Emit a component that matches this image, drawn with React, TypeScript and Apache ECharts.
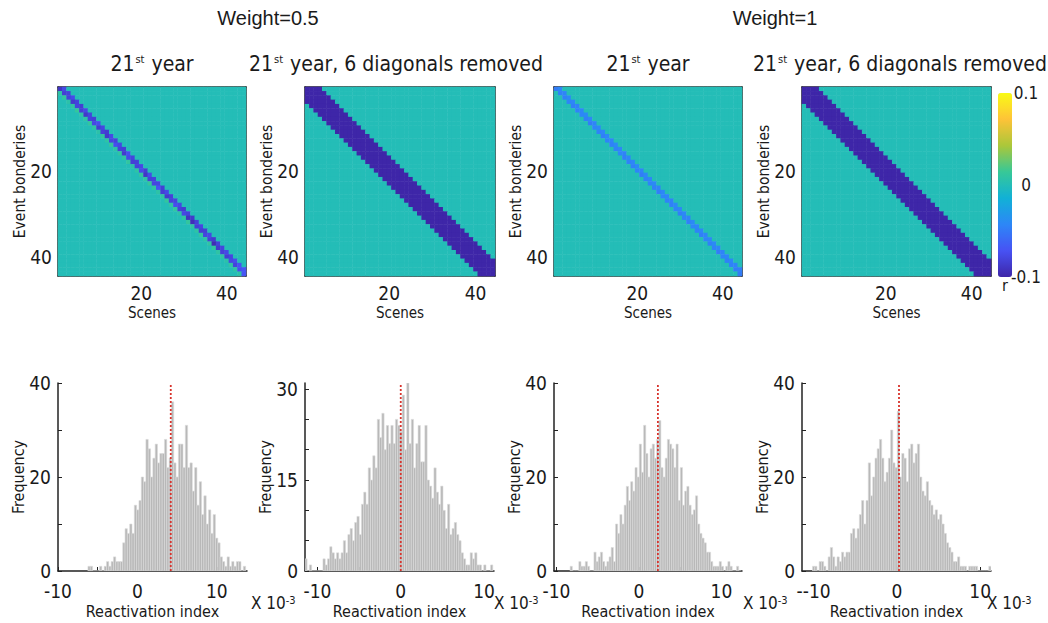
import React, { useEffect, useRef } from "react";
import * as echarts from "echarts";

// ---------------- data ----------------
const N = 44;
const CELL_LABELS = Array.from({ length: N }, (_, i) => String(i + 1));

// "21st year", weight 0.5: main diagonal, the diagonal just above it, and the one just below it
const P1_DIAG = [-0.090, -0.084, -0.082, -0.086, -0.080, -0.083, -0.088, -0.081, -0.078, -0.085,
  -0.082, -0.087, -0.079, -0.074, -0.082, -0.086, -0.077, -0.083, -0.081, -0.076,
  -0.089, -0.082, -0.079, -0.072, -0.084, -0.086, -0.081, -0.075, -0.082, -0.078,
  -0.091, -0.094, -0.083, -0.084, -0.080, -0.082, -0.096, -0.087, -0.082, -0.084,
  -0.078, -0.081, -0.074, -0.070];
const P1_UPPER = [-0.078, -0.082, -0.076, -0.081, -0.084, -0.078, -0.080, -0.083, -0.075, -0.079,
  -0.085, -0.077, -0.081, -0.078, -0.083, -0.074, -0.080, -0.082, -0.078, -0.084,
  -0.076, -0.081, -0.079, -0.083, -0.077, -0.082, -0.080, -0.078, -0.085, -0.081,
  -0.087, -0.082, -0.079, -0.083, -0.078, -0.086, -0.082, -0.080, -0.077, -0.079,
  -0.075, -0.072, -0.070];
const P1_LOWER = [0.008, 0.010, 0.006, 0.009, 0.012, 0.007, 0.008, 0.011, 0.008, 0.006,
  0.010, 0.008, 0.011, 0.007, 0.009, 0.008, 0.010, 0.006, 0.008, 0.010,
  0.008, 0.012, 0.009, 0.007, 0.008, 0.011, 0.008, 0.010, 0.006, 0.009,
  0.011, 0.008, 0.008, 0.010, 0.007, 0.009, 0.010, 0.008, 0.008, 0.006,
  0.009, 0.008, 0.007];
// "21st year", weight 1
const P3_DIAG = [-0.048, -0.045, -0.046, -0.044, -0.047, -0.045, -0.043, -0.046, -0.048, -0.044,
  -0.045, -0.047, -0.044, -0.046, -0.045, -0.043, -0.047, -0.045, -0.046, -0.044,
  -0.048, -0.045, -0.044, -0.046, -0.047, -0.043, -0.045, -0.046, -0.044, -0.047,
  -0.045, -0.046, -0.043, -0.045, -0.047, -0.044, -0.046, -0.045, -0.048, -0.044,
  -0.046, -0.045, -0.047, -0.049];
const P3_UPPER = [-0.042, -0.044, -0.041, -0.043, -0.045, -0.042, -0.040, -0.043, -0.044, -0.041,
  -0.043, -0.042, -0.044, -0.041, -0.043, -0.045, -0.042, -0.043, -0.040, -0.044,
  -0.042, -0.043, -0.041, -0.044, -0.042, -0.043, -0.045, -0.041, -0.043, -0.042,
  -0.044, -0.041, -0.043, -0.042, -0.044, -0.043, -0.041, -0.042, -0.044, -0.043,
  -0.042, -0.044, -0.046];
// "6 diagonals removed": band |row-col| <= 3 set to the colour-scale minimum
const REMOVED_HALF_WIDTH = 3;
const REMOVED_VALUE = -0.1;
const OFF_DIAG_VALUE = 0;

const R_MIN = -0.1;
const R_MAX = 0.1;
const PARULA = ["#3e26a8", "#4752f4", "#2d87f7", "#11b1d6", "#37c897", "#abc739", "#fec338", "#f9fb15"];

// histograms (x in units of 1e-3)
const H1_START = -6.23, H1_WIDTH = 0.292;
const H1_COUNTS = [1, 1, 0, 0, 0, 1, 0, 1, 2, 1, 2, 3, 2, 2, 2, 6, 9, 8, 10, 8,
  14, 13, 15, 20, 19, 28, 26, 20, 24, 27, 23, 25, 25, 28, 22, 24, 36, 23, 20, 27,
  27, 22, 31, 22, 23, 17, 22, 14, 19, 12, 16, 10, 13, 8, 12, 7, 6, 3, 2, 1,
  3, 1, 2, 1, 2, 2, 0, 1];
const H2_START = -11.52, H2_WIDTH = 0.272;
const H2_COUNTS = [2, 0, 1, 0, 0, 0, 0, 0, 2, 1, 2, 4, 3, 2, 3, 2, 3, 5, 3, 6,
  7, 5, 8, 9, 6, 11, 13, 11, 17, 15, 19, 17, 25, 22, 26, 20, 24, 21, 24, 21,
  25, 24, 23, 29, 20, 31, 21, 25, 17, 21, 24, 18, 18, 24, 15, 14, 12, 17, 13, 11,
  14, 10, 7, 11, 6, 7, 8, 6, 5, 3, 2, 1, 1, 3, 2, 3, 1, 1, 0, 1, 0, 0, 1];
const H3_START = -8.34, H3_WIDTH = 0.262;
const H3_COUNTS = [1, 0, 0, 0, 2, 1, 1, 2, 1, 0, 0, 4, 2, 3, 4, 2, 1, 2, 3, 5,
  2, 10, 8, 12, 10, 14, 18, 15, 19, 17, 22, 20, 27, 21, 31, 25, 20, 26, 27, 24,
  28, 32, 22, 20, 24, 28, 27, 26, 22, 27, 15, 22, 14, 17, 18, 14, 12, 13, 16, 10,
  8, 7, 6, 4, 4, 2, 1, 1, 1, 2, 1, 0, 1, 2, 1, 0, 0, 1, 0];
const H4_START = -10.14, H4_WIDTH = 0.268;
const H4_COUNTS = [1, 1, 0, 2, 2, 1, 0, 3, 5, 3, 1, 3, 2, 4, 3, 4, 4, 8, 9, 7,
  9, 12, 15, 10, 15, 23, 16, 20, 24, 26, 28, 24, 19, 21, 24, 30, 23, 22, 34, 20,
  25, 24, 19, 26, 27, 23, 25, 27, 20, 17, 16, 19, 15, 14, 12, 13, 11, 12, 10, 8,
  6, 5, 4, 2, 2, 3, 1, 1, 1, 0, 1, 1, 1, 1, 0, 0, 0, 0, 0, 1];
const MEANS = [4.2, 0.0, 2.3, 0.25];

const HIST_X_RANGES = [[-10, 13.8], [-11.5, 11.2], [-10.3, 12.5], [-11.4, 11.3]];
const HIST_Y_MAX = [40, 31, 40, 40];
const HIST_X_TICKS = [-10, -5, 0, 5, 10];
const HIST_X_LABELS = [-10, 0, 10];
const HIST_Y_TICKS = [[0, 10, 20, 30, 40], [0, 5, 10, 15, 20, 25, 30], [0, 10, 20, 30, 40], [0, 10, 20, 30, 40]];
const HIST_Y_LABELS = [[0, 20, 40], [0, 15, 30], [0, 20, 40], [0, 20, 40]];

const SUPER_TITLES = ["Weight=0.5", "Weight=1"];
const PANEL_TITLES = ["21{sup|st} year", "21{sup|st} year, 6 diagonals removed", "21{sup|st} year", "21{sup|st} year, 6 diagonals removed"];
const COLORBAR_TICKS = [-0.1, 0, 0.1];

// ---------------- layout / style ----------------
const NARROW = "'DejaVu Sans Condensed', 'Liberation Sans', sans-serif";
const SANS = "'Liberation Sans', Arial, sans-serif";
const TXT = "#1a1a1a";
const AX = "#222222";
const HM_LEFTS = [58, 305, 554, 802];
const HM_WIDTHS = [188, 190, 188, 189];
const HM_TOP = 87, HM_H = 189;
const HI_LEFTS = [58, 305, 554, 802];
const HI_WIDTHS = [189, 189, 188, 189];
const HI_TOP = 383, HI_H = 188;
const SUPER_X = [268, 775];
const PANEL_TITLE_X = [152, 396, 648, 900];
const EXP_X = [251, 494, 743, 987];
const TICK_FONT = 19;

function matrix(kind: string) {
  const out: number[][] = [];
  for (let i = 0; i < N; i++) {
    for (let j = 0; j < N; j++) {
      let v = OFF_DIAG_VALUE;
      if (kind === "p1") {
        if (i === j) v = P1_DIAG[i];
        else if (j === i + 1) v = P1_UPPER[i];
        else if (i === j + 1) v = P1_LOWER[j];
      } else if (kind === "p3") {
        if (i === j) v = P3_DIAG[i];
        else if (j === i + 1) v = P3_UPPER[i];
      } else if (Math.abs(i - j) <= REMOVED_HALF_WIDTH) {
        v = REMOVED_VALUE;
      }
      out.push([j, i, v]);
    }
  }
  return out;
}

function bins(start: number, width: number, counts: number[]) {
  return counts.map((c, k) => [start + k * width, start + (k + 1) * width, c]);
}

export default function App() {
  const ref = useRef<HTMLDivElement>(null);
  useEffect(() => {
    document.body.style.margin = "0";
    const chart = echarts.init(ref.current!, null, { renderer: "svg" });

    const grids: any[] = [];
    const xAxes: any[] = [];
    const yAxes: any[] = [];
    const series: any[] = [];
    const axisLine = { show: true, lineStyle: { color: AX, width: 1.5 } };
    const tickFn = (i: number) => (i + 1) % 10 === 0;
    const labelFn = (i: number) => (i + 1) % 20 === 0;
    const nameStyle = (size: number) => ({ fontFamily: NARROW, fontSize: size, color: TXT });

    const kinds = ["p1", "removed", "p3", "removed"];
    for (let k = 0; k < 4; k++) {
      grids.push({ left: HM_LEFTS[k], top: HM_TOP, width: HM_WIDTHS[k], height: HM_H, outerBoundsMode: "none" });
      const xi = xAxes.length, yi = yAxes.length;
      const tick = { show: true, inside: true, alignWithLabel: true, interval: tickFn, length: 4, lineStyle: { color: AX, width: 1 } };
      xAxes.push({
        gridIndex: k, type: "category", data: CELL_LABELS, position: "bottom", axisLine, axisTick: tick,
        axisLabel: { interval: labelFn, margin: 7, fontFamily: NARROW, fontSize: TICK_FONT, color: TXT },
        splitLine: { show: false }, name: "Scenes", nameLocation: "middle", nameGap: 29, nameMoveOverlap: false,
        nameTextStyle: nameStyle(15),
      });
      xAxes.push({
        gridIndex: k, type: "category", data: CELL_LABELS, position: "top", axisLine, axisTick: tick,
        axisLabel: { show: false }, splitLine: { show: false },
      });
      yAxes.push({
        gridIndex: k, type: "category", data: CELL_LABELS, inverse: true, position: "left", axisLine, axisTick: tick,
        axisLabel: { interval: labelFn, margin: 6, fontFamily: NARROW, fontSize: TICK_FONT, color: TXT },
        splitLine: { show: false }, name: "Event bonderies", nameLocation: "middle", nameGap: 30, nameRotate: 90,
        nameMoveOverlap: false, nameTextStyle: nameStyle(15.5),
      });
      yAxes.push({
        gridIndex: k, type: "category", data: CELL_LABELS, inverse: true, position: "right", axisLine, axisTick: tick,
        axisLabel: { show: false }, splitLine: { show: false },
      });
      series.push({
        type: "heatmap", xAxisIndex: xi, yAxisIndex: yi, data: matrix(kinds[k]),
        itemStyle: { borderWidth: 0 }, emphasis: { disabled: true }, progressive: 0, silent: true,
      });
    }

    const H_START = [H1_START, H2_START, H3_START, H4_START];
    const H_WIDTH = [H1_WIDTH, H2_WIDTH, H3_WIDTH, H4_WIDTH];
    const H_COUNTS = [H1_COUNTS, H2_COUNTS, H3_COUNTS, H4_COUNTS];
    for (let k = 0; k < 4; k++) {
      const g = grids.length;
      grids.push({ left: HI_LEFTS[k], top: HI_TOP, width: HI_WIDTHS[k], height: HI_H, outerBoundsMode: "none" });
      const xi = xAxes.length, yi = yAxes.length;
      xAxes.push({
        gridIndex: g, type: "value", min: HIST_X_RANGES[k][0], max: HIST_X_RANGES[k][1], position: "bottom",
        axisLine: { ...axisLine, onZero: false },
        axisTick: { show: true, inside: true, length: 4, customValues: HIST_X_TICKS, lineStyle: { color: AX } },
        axisLabel: {
          customValues: HIST_X_LABELS, margin: 10, fontFamily: NARROW, fontSize: TICK_FONT, color: TXT,
          formatter: (v: number) => (k === 3 && v === -10 ? "--10" : String(v)),
        },
        splitLine: { show: false }, name: "Reactivation index", nameLocation: "middle", nameGap: 32,
        nameMoveOverlap: false, nameTextStyle: nameStyle(16),
      });
      yAxes.push({
        gridIndex: g, type: "value", min: 0, max: HIST_Y_MAX[k], position: "left",
        axisLine: { ...axisLine, onZero: false },
        axisTick: { show: true, inside: true, length: 4, customValues: HIST_Y_TICKS[k], lineStyle: { color: AX } },
        axisLabel: { customValues: HIST_Y_LABELS[k], margin: 7, fontFamily: NARROW, fontSize: TICK_FONT, color: TXT },
        splitLine: { show: false }, name: "Frequency", nameLocation: "middle", nameGap: 32, nameRotate: 90,
        nameMoveOverlap: false, nameTextStyle: nameStyle(16),
      });
      series.push({
        type: "custom", xAxisIndex: xi, yAxisIndex: yi, data: bins(H_START[k], H_WIDTH[k], H_COUNTS[k]),
        encode: { x: [0, 1], y: 2 }, silent: true, clip: true,
        renderItem: (params: any, api: any) => {
          const p0 = api.coord([api.value(0), 0]);
          const p1 = api.coord([api.value(1), api.value(2)]);
          return {
            type: "rect",
            shape: { x: p0[0], y: p1[1], width: p1[0] - p0[0], height: p0[1] - p1[1] },
            style: { fill: "#b8b8b8", stroke: "#dcdcdc", lineWidth: 0.6 },
          };
        },
      });
      series.push({
        type: "line", xAxisIndex: xi, yAxisIndex: yi, data: [[MEANS[k], 0], [MEANS[k], HIST_Y_MAX[k]]],
        symbol: "none", silent: true, z: 5,
        lineStyle: { color: "#d8332c", width: 1.8, type: [2, 2] },
      });
    }

    // colour-bar labels (axes of an empty grid placed on the visualMap bar)
    const cg = grids.length;
    grids.push({ left: 998, top: 93, width: 14, height: 184, outerBoundsMode: "none" });
    xAxes.push({
      gridIndex: cg, type: "category", data: ["r"], axisLine: { show: false }, axisTick: { show: false },
      axisLabel: { margin: 0, fontFamily: NARROW, fontSize: 16, color: TXT }, splitLine: { show: false },
    });
    yAxes.push({
      gridIndex: cg, type: "value", min: R_MIN, max: R_MAX, position: "right", axisLine: { show: false },
      axisTick: { show: false }, splitLine: { show: false },
      axisLabel: { customValues: COLORBAR_TICKS, margin: 14, align: "center", fontFamily: NARROW, fontSize: 17, color: TXT },
    });

    const graphic: any[] = [];
    SUPER_TITLES.forEach((t, i) =>
      graphic.push({
        type: "text", x: SUPER_X[i], y: 18,
        style: { text: t, fontFamily: SANS, fontSize: 20, fill: TXT, align: "center", verticalAlign: "middle" },
      })
    );
    PANEL_TITLES.forEach((t, i) =>
      graphic.push({
        type: "text", x: PANEL_TITLE_X[i], y: 64,
        style: {
          text: t, fontFamily: NARROW, fontSize: 21, fill: TXT, align: "center", verticalAlign: "middle",
          rich: { sup: { fontFamily: NARROW, fontSize: 11, fill: TXT, verticalAlign: "top", padding: [0, 1, 0, 1] } },
        },
      })
    );
    EXP_X.forEach((x) =>
      graphic.push({
        type: "text", x, y: 603,
        style: {
          text: "X 10{sup|-3}", fontFamily: NARROW, fontSize: 17, fill: TXT, align: "left", verticalAlign: "middle",
          rich: { sup: { fontFamily: NARROW, fontSize: 11, fill: TXT, verticalAlign: "top" } },
        },
      })
    );

    chart.setOption({
      animation: false,
      backgroundColor: "#ffffff",
      grid: grids,
      xAxis: xAxes,
      yAxis: yAxes,
      visualMap: {
        type: "continuous", min: R_MIN, max: R_MAX, seriesIndex: [0, 1, 2, 3], show: true, calculable: false,
        left: 998, top: 93, padding: 0, itemWidth: 14, itemHeight: 184, orient: "vertical", text: null,
        inRange: { color: PARULA }, hoverLink: false,
      },
      graphic,
      series,
    });
    return () => chart.dispose();
  }, []);
  return <div ref={ref} style={{ width: 1048, height: 623 }} />;
}
